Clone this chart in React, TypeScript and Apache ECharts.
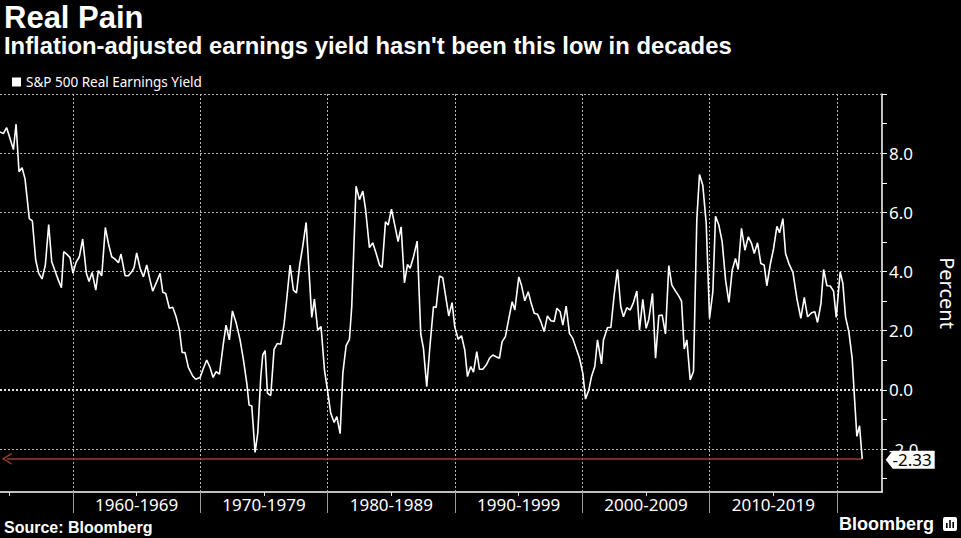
import React, { useEffect, useRef } from "react";
import * as echarts from "echarts";

// ---- Data ----
const seriesName = "S&P 500 Real Earnings Yield";

// Decimal years of each observation
const periods = [
  1954.27, 1954.53, 1954.79, 1955.06, 1955.32, 1955.53, 1955.76, 1956.0, 1956.23, 1956.57,
  1956.81, 1957.07, 1957.31, 1957.57, 1957.83, 1958.09, 1958.33, 1958.59, 1958.85, 1959.09,
  1959.27, 1959.51, 1959.77, 1960.0, 1960.24, 1960.5, 1960.76, 1961.05, 1961.26, 1961.5,
  1961.79, 1961.99, 1962.26, 1962.54, 1962.78, 1963.04, 1963.3, 1963.57, 1963.77, 1964.09,
  1964.35, 1964.61, 1964.8, 1965.0, 1965.27, 1965.53, 1965.79, 1966.05, 1966.26, 1966.58,
  1966.84, 1967.05, 1967.28, 1967.57, 1967.83, 1968.1, 1968.36, 1968.57, 1968.8, 1969.06,
  1969.4, 1969.64, 1969.98, 1970.24, 1970.5, 1970.77, 1971.0, 1971.24, 1971.5, 1971.81,
  1972.02, 1972.28, 1972.52, 1972.81, 1973.12, 1973.38, 1973.65, 1973.83, 1974.04, 1974.3,
  1974.51, 1974.75, 1974.9, 1975.09, 1975.27, 1975.53, 1975.79, 1976.05, 1976.32, 1976.58,
  1976.79, 1977.05, 1977.31, 1977.55, 1977.81, 1978.04, 1978.31, 1978.75, 1978.96, 1979.22,
  1979.48, 1979.75, 1979.98, 1980.24, 1980.51, 1980.72, 1980.98, 1981.19, 1981.45, 1981.71,
  1981.89, 1982.23, 1982.5, 1982.76, 1982.97, 1983.28, 1983.54, 1983.81, 1984.07, 1984.28,
  1984.54, 1984.75, 1985.01, 1985.27, 1985.53, 1985.77, 1986.03, 1986.27, 1986.48, 1986.74,
  1987.03, 1987.31, 1987.52, 1987.78, 1988.05, 1988.31, 1988.52, 1988.78, 1989.04, 1989.25,
  1989.51, 1989.77, 1989.98, 1990.25, 1990.51, 1990.77, 1990.98, 1991.24, 1991.45, 1991.71,
  1991.92, 1992.18, 1992.45, 1992.71, 1992.97, 1993.23, 1993.49, 1993.7, 1993.96, 1994.23,
  1994.49, 1994.7, 1995.01, 1995.22, 1995.48, 1995.75, 1995.95, 1996.22, 1996.48, 1996.74,
  1997.0, 1997.26, 1997.53, 1997.79, 1998.0, 1998.26, 1998.47, 1998.73, 1998.99, 1999.25,
  1999.51, 1999.78, 2000.04, 2000.25, 2000.51, 2000.72, 2000.98, 2001.19, 2001.51, 2001.66,
  2001.98, 2002.24, 2002.5, 2002.76, 2003.02, 2003.23, 2003.49, 2003.76, 2004.02, 2004.28,
  2004.49, 2004.75, 2005.01, 2005.22, 2005.51, 2005.75, 2006.01, 2006.27, 2006.53, 2006.79,
  2007.03, 2007.32, 2007.58, 2007.79, 2008.0, 2008.21, 2008.47, 2008.73, 2008.99, 2009.2,
  2009.46, 2009.73, 2009.99, 2010.25, 2010.46, 2010.72, 2010.98, 2011.25, 2011.51, 2011.77,
  2012.03, 2012.24, 2012.5, 2012.77, 2013.03, 2013.29, 2013.5, 2013.76, 2014.02, 2014.28,
  2014.49, 2014.75, 2015.02, 2015.28, 2015.49, 2015.75, 2015.96, 2016.22, 2016.54, 2016.85,
  2017.16, 2017.43, 2017.69, 2018.0, 2018.26, 2018.47, 2018.74, 2018.95, 2019.21, 2019.47,
  2019.73, 2019.94, 2020.25, 2020.46, 2020.67, 2020.93, 2021.19, 2021.4, 2021.56, 2021.77,
  2021.98,
];

// Real earnings yield, percent
const yieldPct = [
  8.72, 8.66, 8.86, 8.49, 8.12, 8.98, 7.37, 7.51, 7.14, 5.79,
  5.71, 4.39, 3.94, 3.75, 4.22, 5.59, 4.33, 4.02, 3.71, 3.45,
  4.67, 4.59, 4.47, 3.94, 4.31, 4.5, 5.1, 3.94, 3.66, 3.97,
  3.37, 4.03, 3.86, 5.49, 4.95, 4.5, 4.42, 4.3, 4.59, 3.86,
  3.86, 3.99, 4.14, 4.63, 4.11, 3.82, 4.22, 3.71, 3.34, 3.66,
  3.94, 3.3, 3.26, 2.76, 2.79, 2.47, 2.02, 1.27, 1.26, 0.76,
  0.47, 0.36, 0.42, 0.73, 1.01, 0.75, 0.42, 0.62, 0.53, 1.57,
  2.19, 1.69, 2.67, 2.27, 1.69, 1.03, 0.22, -0.51, -0.54, -2.11,
  -1.46, 0.45, 1.18, 1.33, -0.11, -0.19, 1.37, 1.57, 1.54, 2.23,
  3.09, 4.22, 3.37, 3.28, 4.24, 4.84, 5.66, 2.45, 3.07, 2.02,
  2.14, 0.67, 0.0, -0.79, -1.1, -0.9, -1.48, 0.56, 1.5, 1.71,
  2.81, 6.88, 6.43, 6.72, 6.13, 4.81, 4.97, 4.61, 4.22, 4.14,
  5.68, 5.57, 6.11, 5.57, 5.01, 5.51, 3.62, 4.24, 4.11, 4.5,
  5.03, 1.89, 1.41, 0.11, 1.57, 2.81, 2.79, 3.85, 3.79, 3.21,
  2.5, 2.95, 2.14, 1.71, 1.83, 1.35, 0.45, 0.79, 0.6, 1.29,
  0.7, 0.7, 0.84, 1.07, 1.18, 1.12, 1.07, 1.63, 1.8, 2.42,
  2.98, 2.7, 3.82, 3.54, 3.01, 3.32, 2.98, 2.59, 2.56, 2.31,
  1.97, 2.5, 2.34, 2.31, 2.76, 2.64, 2.19, 2.83, 1.91, 1.74,
  1.41, 1.07, 0.56, -0.31, 0.0, 0.45, 0.79, 1.69, 0.88, 1.69,
  2.11, 2.11, 3.21, 4.07, 2.81, 2.47, 2.78, 2.7, 2.96, 3.34,
  2.02, 3.06, 2.08, 2.38, 3.26, 1.07, 2.51, 2.53, 1.89, 4.2,
  3.54, 3.34, 3.17, 3.0, 1.38, 1.69, 0.34, 0.62, 5.74, 7.28,
  6.92, 5.62, 2.42, 3.32, 5.87, 5.57, 5.01, 3.71, 2.96, 4.05,
  4.44, 4.07, 5.46, 4.72, 5.17, 4.95, 4.61, 4.97, 4.27, 4.22,
  3.52, 4.22, 4.78, 5.53, 5.31, 5.79, 4.61, 4.27, 3.97, 3.09,
  2.42, 3.13, 2.47, 2.61, 2.64, 2.28, 2.92, 4.07, 3.52, 3.51,
  3.34, 2.45, 3.99, 3.6, 2.47, 1.97, 1.07, -0.45, -1.57, -1.21,
  -2.33,
];

const latestValue = -2.33;
const decadeBounds = [1960, 1970, 1980, 1990, 2000, 2010, 2020];
const halfDecadeTicks = [1955, 1965, 1975, 1985, 1995, 2005, 2015];
const decadeLabelCenters = [1965, 1975, 1985, 1995, 2005, 2015];
const yLabelValues = [-2, 0, 2, 4, 6, 8];
const yTickValues = [-3, -2, -1, 0, 1, 2, 3, 4, 5, 6, 7, 8, 9, 10];
const yGridValues = [-2, 2, 4, 6, 8, 10];
const xMin = 1954.267;
const xMax = 2023.534;
const yMin = -3.45;
const yMax = 10;
const arrowStartYear = 1954.8;

const chevron = "path://M0,10 L5,0 L10,10 L8.6,10 L5,2.6 L1.4,10 Z";
const tagShape = "path://M0,9 L7,0 L49,0 L49,18 L7,18 Z";

export default function App() {
  const ref = useRef<HTMLDivElement>(null);

  useEffect(() => {
    if (!ref.current) return;
    const chart = echarts.init(ref.current, undefined, { renderer: "svg" });
    const seriesData = periods.map((p, i) => [p, yieldPct[i]]);
    const lastPeriod = periods[periods.length - 1];

    const gridDotted = { color: "#b4b4b4", width: 1, type: [2, 2] as number[] };

    const option: any = {
      animation: false,
      backgroundColor: "#000",
      textStyle: { fontFamily: "Noto Sans" },
      grid: { left: 0, right: 79, top: 94, bottom: 46, containLabel: false },
      legend: {
        show: true,
        left: 7,
        top: 70,
        icon: "rect",
        itemWidth: 9,
        itemHeight: 9,
        data: [{ name: seriesName, itemStyle: { color: "#fff" } }],
        textStyle: { color: "#fff", fontSize: 13.5, fontFamily: "Noto Sans" },
      },
      xAxis: [
        {
          type: "value",
          min: xMin,
          max: xMax,
          position: "bottom",
          axisLine: { show: true, onZero: false, lineStyle: { color: "#fff", width: 1.5 } },
          axisTick: {
            show: true,
            customValues: decadeBounds,
            length: 21,
            lineStyle: { color: "#9a9a9a", width: 1 },
          },
          axisLabel: {
            show: true,
            customValues: decadeLabelCenters,
            formatter: (v: number) => `${Math.round(v) - 5}-${Math.round(v) + 4}`,
            color: "#fff",
            fontSize: 17,
            fontFamily: "Noto Sans",
            margin: 4,
          },
          splitLine: { show: false },
        },
        {
          type: "value",
          min: xMin,
          max: xMax,
          position: "bottom",
          axisLine: { show: false, onZero: false },
          axisTick: {
            show: true,
            customValues: halfDecadeTicks,
            length: 4,
            lineStyle: { color: "#ddd", width: 1 },
          },
          axisLabel: { show: false },
          splitLine: { show: false },
        },
      ],
      yAxis: {
        type: "value",
        position: "right",
        min: yMin,
        max: yMax,
        axisLine: { show: true, onZero: false, lineStyle: { color: "#fff", width: 1.5 } },
        axisTick: {
          show: true,
          inside: false,
          customValues: yTickValues,
          length: 5,
          lineStyle: { color: "#fff", width: 1 },
        },
        axisLabel: {
          customValues: yLabelValues,
          formatter: (v: number) => v.toFixed(1),
          color: "#fff",
          fontSize: 17,
          fontFamily: "Noto Sans",
          margin: 7,
        },
        splitLine: { show: false },
      },
      series: [
        {
          // helper series carrying the dotted grid
          type: "line",
          name: "grid",
          data: [seriesData[0]],
          showSymbol: false,
          lineStyle: { opacity: 0 },
          silent: true,
          z: 1,
          markLine: {
            silent: true,
            z: 1,
            symbol: ["none", "none"],
            label: { show: false },
            lineStyle: gridDotted,
            data: [
              ...yGridValues.map((v) => ({ yAxis: v })),
              { yAxis: 0, lineStyle: { color: "#e0e0e0", width: 2, type: [2, 2] } },
              ...decadeBounds.map((v) => ({ xAxis: v })),
            ],
          },
        },
        {
          type: "line",
          name: seriesName,
          data: seriesData,
          showSymbol: false,
          symbol: "none",
          z: 3,
          lineStyle: { color: "#fff", width: 1.6 },
          itemStyle: { color: "#fff" },
          markLine: {
            silent: true,
            z: 2,
            label: { show: false },
            lineStyle: { color: "#9b3b32", width: 1.5, type: "solid" },
            data: [
              [
                { coord: [arrowStartYear, latestValue], symbol: chevron, symbolSize: [12, 10] },
                { coord: [lastPeriod, latestValue], symbol: "none" },
              ],
            ],
          },
          markPoint: {
            silent: true,
            z: 6,
            symbol: tagShape,
            symbolSize: [49, 18],
            symbolOffset: [48, 1],
            itemStyle: { color: "#fff" },
            label: {
              show: true,
              position: "inside",
              formatter: () => latestValue.toFixed(2),
              color: "#000",
              fontSize: 17,
              fontFamily: "Noto Sans",
              offset: [2, 0],
            },
            data: [{ coord: [lastPeriod, latestValue], value: latestValue }],
          },
        },
      ],
      graphic: [
        {
          type: "text",
          x: 4,
          y: 17,
          style: {
            text: "Real Pain",
            fill: "#fff",
            font: 'bold 31px "Liberation Sans"',
            align: "left",
            verticalAlign: "middle",
          },
        },
        {
          type: "text",
          x: 4,
          y: 45,
          style: {
            text: "Inflation-adjusted earnings yield hasn't been this low in decades",
            fill: "#fff",
            font: 'bold 23.8px "Liberation Sans"',
            align: "left",
            verticalAlign: "middle",
          },
        },
        {
          type: "text",
          x: 4,
          y: 527,
          style: {
            text: "Source: Bloomberg",
            fill: "#fff",
            font: 'bold 16px "Liberation Sans"',
            align: "left",
            verticalAlign: "middle",
          },
        },
        {
          type: "text",
          x: 934,
          y: 524,
          style: {
            text: "Bloomberg",
            fill: "#fff",
            font: 'bold 18px "Liberation Sans"',
            align: "right",
            verticalAlign: "middle",
          },
        },
        {
          type: "group",
          x: 943,
          y: 517,
          children: [
            { type: "rect", shape: { x: 0, y: 0, width: 14, height: 14, r: 2 }, style: { fill: "#fff" } },
            { type: "rect", shape: { x: 3, y: 6, width: 1.6, height: 5 }, style: { fill: "#000" } },
            { type: "rect", shape: { x: 6.2, y: 3, width: 1.6, height: 8 }, style: { fill: "#000" } },
            { type: "rect", shape: { x: 9.4, y: 5, width: 1.6, height: 6 }, style: { fill: "#000" } },
          ],
        },
        {
          type: "text",
          x: 947,
          y: 293,
          rotation: -Math.PI / 2,
          style: {
            text: "Percent",
            fill: "#fff",
            font: '20px "Noto Sans"',
            align: "center",
            verticalAlign: "middle",
          },
        },
      ],
    };

    chart.setOption(option);
    return () => chart.dispose();
  }, []);

  return (
    <div
      ref={ref}
      style={{ position: "absolute", left: 0, top: 0, width: 961, height: 538, background: "#000" }}
    />
  );
}
